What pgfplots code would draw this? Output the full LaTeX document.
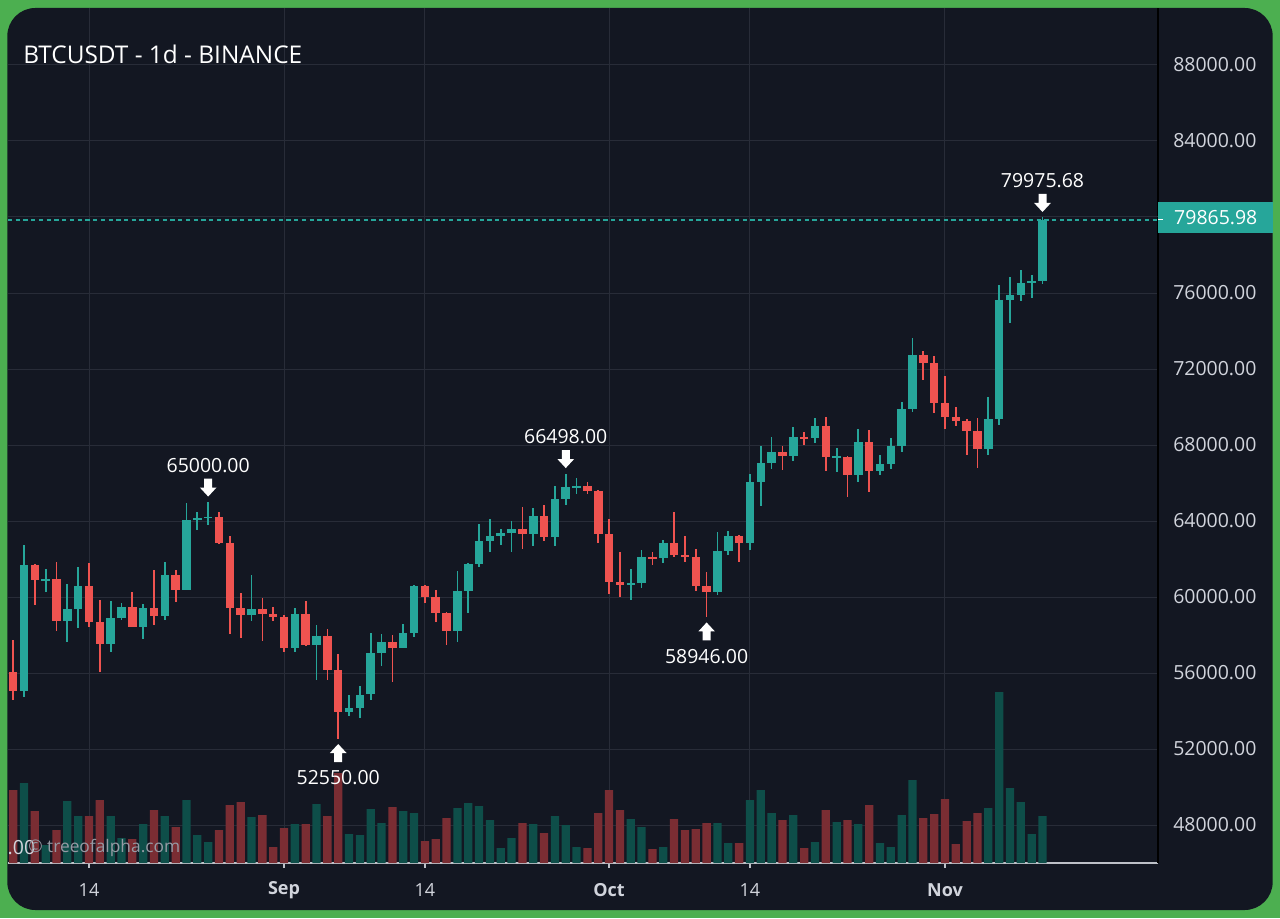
\documentclass[border=0pt]{standalone}
\usepackage{pgfplots}
\pgfplotsset{compat=1.18}
\usepackage{pgfplotstable}
\usepackage{fontspec}
\setmainfont{Open Sans}
\definecolor{gborder}{RGB}{76,175,80}
\definecolor{panel}{RGB}{19,23,34}
\definecolor{gridc}{RGB}{40,44,56}
\definecolor{upc}{RGB}{38,166,154}
\definecolor{dnc}{RGB}{239,83,80}
\definecolor{volg}{RGB}{14,78,73}
\definecolor{volr}{RGB}{122,45,51}
\definecolor{tickc}{RGB}{209,212,220}
\definecolor{axc}{RGB}{190,193,200}
\newcommand{\lbl}{\fontsize{14.6}{17}\selectfont}

\pgfplotstableread{
d O H L C V
6 56034 57736 54558 55027 73
7 55027 62745 54730 61710 80
8 61710 61750 59587 60880 52
9 60881 61464 60287 60945 18
10 60946 61845 58200 58712 33
11 58713 60699 57642 59346 62
12 59347 61578 58392 60587 47
13 60588 61800 58433 58683 47
14 58683 59849 56078 57541 63
15 57541 59817 57098 58874 47
16 58874 59700 58785 59491 25
17 59491 60284 58408 58427 24
18 58427 59617 57787 59438 39
19 59438 61400 58548 59013 53
20 59013 61820 58783 61156 47
21 61156 61400 59724 60381 36
22 60381 64955 60345 64037 63
23 64037 64494 63532 64157 28
24 64157 65000 63773 64220 21
25 64220 64481 62800 62834 33
26 62834 63212 58034 59415 58
27 59415 60234 57860 59034 61
28 59034 61166 58745 59359 46
29 59359 59944 57701 59123 48
30 59123 59462 58744 58973 16
31 58973 59054 57118 57301 35
32 57301 59425 57128 59132 39
33 59132 59809 57415 57487 39
34 57487 58519 55606 57970 59
35 57970 58327 55643 56160 47
36 56160 56995 52550 53962 90
37 53962 54850 53745 54160 29
38 54160 55318 53629 54869 28
39 54869 58088 54591 57042 54
40 57042 58044 56386 57635 40
41 57635 57981 55545 57339 56
42 57339 58588 57324 58127 52
43 58127 60625 57908 60571 50
44 60571 60656 59700 60005 22
45 60005 60392 58696 59182 24
46 59182 59210 57494 58192 45
47 58192 61350 57610 60309 55
48 60309 61786 59175 61759 60
49 61759 63850 61555 62947 57
50 62947 64133 62350 63201 43
51 63201 63559 62758 63348 15
52 63348 64000 62357 63578 25
53 63578 64745 62538 63339 40
54 63339 64688 62700 64262 39
55 64262 64817 62947 63152 30
56 63152 65839 62670 65173 47
57 65173 66498 64819 65769 38
58 65769 66260 65422 65858 16
59 65858 66076 65432 65602 15
60 65602 65618 62857 63327 50
61 63327 64130 60164 60805 73
62 60805 62392 60000 60649 53
63 60649 61477 59828 60752 44
64 60752 62484 60459 62086 36
65 62086 62370 61689 62058 14
66 62058 62975 61798 62819 16
67 62819 64478 62128 62224 44
68 62224 63200 61860 62131 33
69 62131 62543 60300 60583 34
70 60583 61320 58946 60275 40
71 60275 63417 60087 62445 40
72 62445 63480 62209 63193 20
73 63193 63285 61826 62851 20
74 62851 66500 62457 66046 63
75 66046 67950 64800 67041 73
76 67042 68424 66750 67612 50
77 67612 67939 66666 67399 43
78 67399 68969 67177 68418 48
79 68418 68668 68020 68362 15
80 68362 69400 68100 69001 21
81 69002 69500 66618 67367 53
82 67362 67836 66571 67380 41
83 67380 67400 65260 66432 43
84 66432 68850 66048 68161 39
85 68161 68771 65521 66642 58
86 66642 67450 66435 67014 20
87 67014 68389 66753 67929 16
88 67929 70270 67618 69907 48
89 69907 73620 69730 72720 83
90 72720 72961 71436 72339 45
91 72339 72700 69685 70215 49
92 70216 71632 68820 69482 64
93 69482 69980 69022 69289 19
94 69289 69389 67478 68742 42
95 68742 69431 66803 67811 50
96 67811 70522 67458 69359 55
97 69359 76400 69058 75640 171
98 75640 76850 74417 75905 75
99 75905 77199 75560 76539 61
100 76539 76933 75733 76612 29
101 76612 79975.68 76474 79865.98 47
}\candles

\pgfplotsset{
  candle/.style n args={2}{draw=none, mark=none, forget plot,
    error bars/y dir=both, error bars/y explicit, error bars/error mark=none,
    error bars/error bar style={draw=#1, solid, line width=#2, line cap=butt}},
  upsel/.style={restrict expr to domain={\thisrow{C}-\thisrow{O}}{0:10000000}},
  dnsel/.style={restrict expr to domain={\thisrow{C}-\thisrow{O}}{-10000000:-0.001}},
}

\newcommand{\darrow}[1]{\fill[white] ([yshift=4.1pt]#1) -- ++(-6.25pt,6.75pt) -- ++(3.25pt,0) -- ++(0,6.75pt) -- ++(6pt,0) -- ++(0,-6.75pt) -- ++(3.25pt,0) -- cycle;}
\newcommand{\uarrow}[1]{\fill[white] ([yshift=-4.1pt]#1) -- ++(-6.25pt,-6.75pt) -- ++(3.25pt,0) -- ++(0,-6.75pt) -- ++(6pt,0) -- ++(0,6.75pt) -- ++(3.25pt,0) -- cycle;}

\begin{document}
\begin{tikzpicture}
\fill[gborder] (0,0) rectangle (960pt,688.5pt);
\fill[panel, rounded corners=21pt] (5.5pt,6pt) rectangle (954.5pt,682.5pt);

\begin{axis}[
  at={(6pt,41.25pt)}, anchor=south west,
  scale only axis, width=862.5pt, height=641.25pt,
  xmin=5.524, xmax=111.66, ymin=46000, ymax=91000,
  axis x line*=bottom, axis y line*=right,
  x axis line style={draw=axc, line width=1.1pt},
  y axis line style={draw=black, line width=1.1pt},
  xtick={13,31,44,61,74,92},
  xticklabels={14,\textbf{Sep},14,\textbf{Oct},14,\textbf{Nov}},
  ytick={48000,52000,56000,60000,64000,68000,72000,76000,84000,88000},
  extra y ticks={80000}, extra y tick labels={},
  extra y tick style={ymajorgrids=true},
  scaled y ticks=false,
  xmajorgrids, ymajorgrids,
  grid style={draw=gridc, line width=0.75pt},
  xtick align=outside, major tick length=3.75pt,
  xtick style={draw=axc, line width=1pt},
  ytick style={draw=none},
  /pgf/number format/assume math mode=true,
  yticklabel style={font=\lbl, text=tickc, anchor=west, inner sep=0pt, xshift=11.25pt,
    /pgf/number format/fixed, /pgf/number format/fixed zerofill, /pgf/number format/precision=2,
    /pgf/number format/1000 sep={}, /pgf/number format/assume math mode=true},
  xticklabel style={font=\fontsize{13.5}{16}\selectfont, text=tickc, anchor=center, yshift=-16.5pt},
]
\addplot[upsel, candle={upc}{1.3pt}] table[x=d, y expr={(\thisrow{H}+\thisrow{L})/2}, y error plus expr={(\thisrow{H}-\thisrow{L})/2}, y error minus expr={(\thisrow{H}-\thisrow{L})/2}] {\candles};
\addplot[dnsel, candle={dnc}{1.3pt}] table[x=d, y expr={(\thisrow{H}+\thisrow{L})/2}, y error plus expr={(\thisrow{H}-\thisrow{L})/2}, y error minus expr={(\thisrow{H}-\thisrow{L})/2}] {\candles};
\addplot[upsel, candle={upc}{6.4pt}] table[x=d, y expr={(\thisrow{O}+\thisrow{C})/2}, y error plus expr={max(abs(\thisrow{C}-\thisrow{O})/2,30)}, y error minus expr={max(abs(\thisrow{C}-\thisrow{O})/2,30)}] {\candles};
\addplot[dnsel, candle={dnc}{6.4pt}] table[x=d, y expr={(\thisrow{O}+\thisrow{C})/2}, y error plus expr={max(abs(\thisrow{C}-\thisrow{O})/2,30)}, y error minus expr={max(abs(\thisrow{C}-\thisrow{O})/2,30)}] {\candles};
\addplot[draw=upc, solid, line width=1.5pt, dash pattern=on 3.2pt off 2.6pt, mark=none, forget plot] coordinates {(5.524,79865.98) (111.66,79865.98)};
\coordinate (hi1) at (axis cs:24,65000);
\coordinate (hi2) at (axis cs:57,66498);
\coordinate (hi3) at (axis cs:101,79975.68);
\coordinate (lo1) at (axis cs:36,52550);
\coordinate (lo2) at (axis cs:70,58946);
\coordinate (tag) at (axis cs:111.66,79865.98);
\end{axis}

\begin{axis}[
  at={(6pt,41.25pt)}, anchor=south west,
  scale only axis, width=862.5pt, height=641.25pt,
  xmin=5.524, xmax=111.66, ymin=0, ymax=855,
  hide axis,
]
\addplot[upsel, ybar, bar width=6.2pt, bar shift=0pt, fill=volg, draw=none] table[x=d, y=V] {\candles};
\addplot[dnsel, ybar, bar width=6.2pt, bar shift=0pt, fill=volr, draw=none] table[x=d, y=V] {\candles};
\end{axis}

% annotations
\darrow{hi1}\darrow{hi2}\darrow{hi3}
\uarrow{lo1}\uarrow{lo2}
\node[text=white, font=\lbl] at ([yshift=27.4pt]hi1) {65000.00};
\node[text=white, font=\lbl] at ([yshift=27.4pt]hi2) {66498.00};
\node[text=white, font=\lbl] at ([yshift=27.4pt]hi3) {79975.68};
\node[text=white, font=\lbl] at ([yshift=-29.6pt]lo1) {52550.00};
\node[text=white, font=\lbl] at ([yshift=-29.6pt]lo2) {58946.00};

% last price tag
\node[fill=upc, anchor=west, minimum width=86.25pt, minimum height=23.25pt, inner sep=0pt, text=white, font=\lbl] at ([yshift=1.6pt]tag) {79865.98};
\draw[white, line width=0.75pt] (tag) -- ++(3.75pt,0);

% title
\node[anchor=base west, inner sep=0pt, text=white, font=\fontsize{18.3}{22}\selectfont] at (17.25pt,640.5pt) {BTCUSDT - 1d - BINANCE};

% watermark
\node[anchor=west, inner sep=0pt, text=tickc, font=\lbl] at (5.6pt,52.5pt) {.00};
\node[anchor=west, inner sep=0pt, text={rgb,255:red,150;green,154;blue,164}, font=\fontsize{13}{15}\selectfont] at (21pt,52.5pt) {© treeofalpha.com};
\end{tikzpicture}
\end{document}
